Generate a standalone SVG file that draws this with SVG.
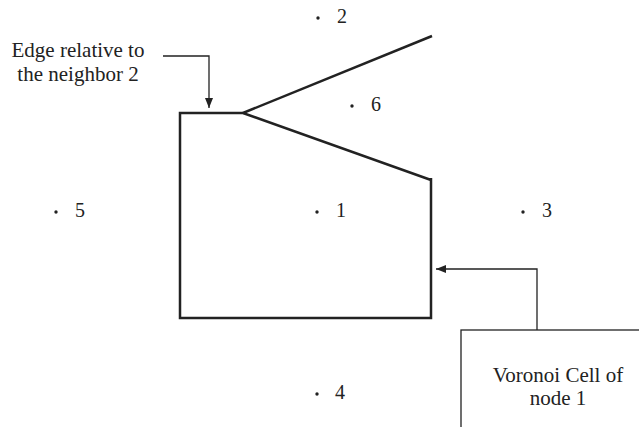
<svg xmlns="http://www.w3.org/2000/svg" width="639" height="427" viewBox="0 0 639 427">
<style>
text{font-family:"Liberation Serif","Times New Roman",serif;font-size:21px;fill:#222}
.num{font-size:20px}
.cell{fill:none;stroke:#222;stroke-width:2.5}
.conn{fill:none;stroke:#222;stroke-width:1.3}
.dot{fill:#222}
</style>
<defs>
<marker id="ah" markerWidth="10" markerHeight="8" refX="10" refY="4" orient="auto" markerUnits="userSpaceOnUse">
<path d="M0,0 L10,4 L0,8 Z" fill="#222"/>
</marker>
</defs>
<rect width="639" height="427" fill="#fff"/>
<g id="cell">
<polyline class="cell" points="431,178 431,318 180,318 180,113 243,113 431,180"/>
<line class="cell" x1="243" y1="113" x2="432" y2="36"/>
</g>
<g id="nodes">
<g id="n2"><circle class="dot" cx="318" cy="18" r="1.7"/><text class="num" x="337" y="23">2</text></g>
<g id="n6"><circle class="dot" cx="352" cy="106" r="1.7"/><text class="num" x="371" y="111">6</text></g>
<g id="n5"><circle class="dot" cx="56" cy="212" r="1.7"/><text class="num" x="75" y="217">5</text></g>
<g id="n1"><circle class="dot" cx="317" cy="212" r="1.7"/><text class="num" x="336" y="217">1</text></g>
<g id="n3"><circle class="dot" cx="523" cy="212" r="1.7"/><text class="num" x="542" y="217">3</text></g>
<g id="n4"><circle class="dot" cx="317" cy="394" r="1.7"/><text class="num" x="335" y="399">4</text></g>
</g>
<g id="label-edge">
<text x="78" y="57" text-anchor="middle">Edge relative to</text>
<text x="78" y="81" text-anchor="middle">the neighbor 2</text>
</g>
<g id="label-cell">
<rect x="461" y="330" width="190" height="110" fill="#fff" stroke="#222" stroke-width="1.3"/>
<text x="558" y="382" text-anchor="middle">Voronoi Cell of</text>
<text x="558" y="405" text-anchor="middle">node 1</text>
</g>
<g id="connectors">
<polyline class="conn" points="163,56 209,56 209,108" marker-end="url(#ah)"/>
<polyline class="conn" points="537,330 537,269 436,269" marker-end="url(#ah)"/>
</g>
</svg>
